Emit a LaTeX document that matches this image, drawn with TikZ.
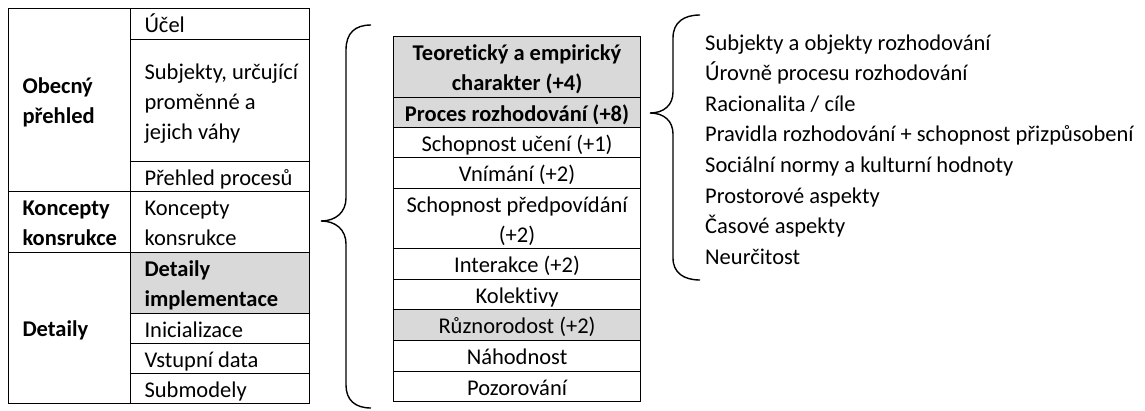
\documentclass[tikz,border=0pt]{standalone}
\usepackage{fontspec}
\setmainfont{Carlito}[Ligatures=NoCommon]
\definecolor{cellgray}{HTML}{D9D9D9}
\newcommand{\cellstrut}{\rule[-6.5pt]{0pt}{30pt}}
\begin{document}
\begin{tikzpicture}[x=1pt,y=-1pt,
  txt/.style={font=\fontsize{22.5}{30}\selectfont},
  cellbase/.style={txt, draw=black, line width=1.1pt, anchor=north west, inner ysep=0pt,
     execute at begin node=\cellstrut, execute at end node=\cellstrut},
  lcell/.style={cellbase, inner xsep=14pt, align=flush left},
  rcell/.style={cellbase, inner xsep=14pt, align=flush left},
  mcell/.style={cellbase, inner xsep=4pt, align=flush center, text width=239pt, minimum height=#1},
  shaded/.style={fill=cellgray},
  brace/.style={draw=black, line width=1.4pt},
  item/.style={txt, anchor=base west, inner sep=0pt}
]
\useasboundingbox (0,0) rectangle (1145,410);

% left table: first column
\node[lcell, text width=94pt, minimum height=183pt] (lo) at (8,8) {\textbf{Obecný}\\\textbf{přehled}};
\node[lcell, text width=94pt, minimum height=61pt] (lk) at (8,191) {\textbf{Koncepty}\\\textbf{konsrukce}};
\node[lcell, text width=94pt, minimum height=151pt] (ld) at (8,252) {\textbf{Detaily}};
% left table: second column
\node[rcell, text width=151pt, minimum height=31pt] (r1) at (130,8) {Účel};
\node[rcell, text width=151pt, minimum height=122pt] (r2) at (130,39) {\mbox{Subjekty, určující}\\proměnné a\\jejich váhy};
\node[rcell, text width=151pt, minimum height=30pt] (r3) at (130,161) {\mbox{Přehled procesů}};
\node[rcell, text width=151pt, minimum height=61pt] (r4) at (130,191) {Koncepty\\konsrukce};
\node[rcell, shaded, text width=151pt, minimum height=61pt] (r5) at (130,252) {\textbf{Detaily}\\\textbf{implementace}};
\node[rcell, text width=151pt, minimum height=30pt] (r6) at (130,313) {Inicializace};
\node[rcell, text width=151pt, minimum height=30pt] (r7) at (130,343) {Vstupní data};
\node[rcell, text width=151pt, minimum height=30pt] (r8) at (130,373) {Submodely};

% middle table
\node[mcell=61pt, shaded] (m1) at (393,36) {\textbf{Teoretický a empirický}\\\textbf{charakter (+4)}};
\node[mcell=30pt, shaded] (m2) at (393,97) {\textbf{Proces rozhodování (+8)}};
\node[mcell=30pt] (m3) at (393,127) {Schopnost učení (+1)};
\node[mcell=31pt] (m4) at (393,157) {Vnímání (+2)};
\node[mcell=60pt] (m5) at (393,188) {Schopnost předpovídání\\(+2)};
\node[mcell=31pt] (m6) at (393,248) {Interakce (+2)};
\node[mcell=30pt] (m7) at (393,279) {Kolektivy};
\node[mcell=31pt, shaded] (m8) at (393,309) {Různorodost (+2)};
\node[mcell=31pt] (m9) at (393,340) {Náhodnost};
\node[mcell=29pt] (m10) at (393,371) {Pozorování};

% right list
\node[item] (i1) at (705,50) {Subjekty a objekty rozhodování};
\node[item] (i2) at (705,80.6) {Úrovně procesu rozhodování};
\node[item] (i3) at (705,111.2) {Racionalita / cíle};
\node[item] (i4) at (705,141.8) {Pravidla rozhodování + schopnost přizpůsobení};
\node[item] (i5) at (705,172.4) {Sociální normy a kulturní hodnoty};
\node[item] (i6) at (705,203) {Prostorové aspekty};
\node[item] (i7) at (705,233.6) {Časové aspekty};
\node[item] (i8) at (705,264.2) {Neurčitost};

% braces
\draw[brace] (371,25) .. controls (355,25) and (346,33) .. (346,50)
  -- (346,198) .. controls (346,212) and (336,221) .. (321,221)
  .. controls (336,221) and (346,230) .. (346,244)
  -- (346,385) .. controls (346,400) and (355,408) .. (371,408);
\draw[brace] (700,15) .. controls (684,15) and (673,22) .. (673,38)
  -- (673,92) .. controls (673,105) and (664,113) .. (650,113)
  .. controls (664,113) and (673,121) .. (673,134)
  -- (673,258) .. controls (673,273) and (684,280) .. (700,280);
\end{tikzpicture}
\end{document}
